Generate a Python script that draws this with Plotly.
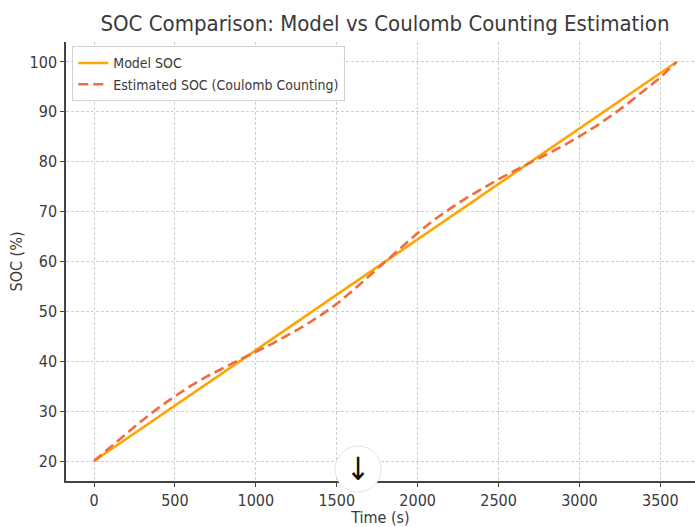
import plotly.graph_objects as go

# Data
time_s = [0, 100, 200, 300, 400, 500, 600, 700, 800, 900, 1000, 1100, 1200,
          1300, 1400, 1500, 1600, 1700, 1800, 1900, 2000, 2100, 2200, 2300,
          2400, 2500, 2600, 2700, 2800, 2900, 3000, 3100, 3200, 3300, 3400,
          3500, 3600]
model_time = [0, 3600]
model_soc = [20, 100]
estimated_soc = [20.0, 22.8, 25.5, 28.2, 30.7, 33.0, 35.1, 37.0, 38.7, 40.3,
                 41.9, 43.5, 45.3, 47.1, 49.2, 51.5, 54.2, 57.1, 60.1, 63.0,
                 65.7, 68.3, 70.6, 72.7, 74.6, 76.5, 78.2, 79.9, 81.5, 83.2,
                 85.1, 87.1, 89.3, 91.7, 94.3, 96.9, 100.0]
x_ticks = [0, 500, 1000, 1500, 2000, 2500, 3000, 3500]
y_ticks = [20, 30, 40, 50, 60, 70, 80, 90, 100]

font_family = "DejaVu Sans Condensed, DejaVu Sans"
text_color = "#3a3a3a"

fig = go.Figure()
fig.add_trace(go.Scatter(
    x=model_time, y=model_soc, mode="lines", name="Model SOC",
    line=dict(color="#FFA500", width=2.6)))
fig.add_trace(go.Scatter(
    x=time_s, y=estimated_soc, mode="lines",
    name="Estimated SOC (Coulomb Counting)",
    line=dict(color="#F26B3A", width=2.6, dash="10px,5px")))

axis_common = dict(
    showgrid=True, gridcolor="#cfcfcf", gridwidth=1, griddash="3px,2px",
    zeroline=False, showline=True, linecolor="#444444", linewidth=1.5,
    ticks="outside", ticklen=4, tickwidth=1, tickcolor="#444444",
    tickfont=dict(family=font_family, size=16, color=text_color),
)

fig.update_layout(
    width=695, height=527,
    margin=dict(l=66, r=0, t=42, b=44),
    paper_bgcolor="white", plot_bgcolor="white",
    font=dict(family=font_family, color=text_color),
    title=dict(text="SOC Comparison: Model vs Coulomb Counting Estimation",
               x=385 / 695, xref="container", xanchor="center",
               y=1 - 23 / 527, yref="container", yanchor="middle",
               font=dict(family=font_family, size=22, color=text_color)),
    xaxis=dict(range=[-173, 3714], tickvals=x_ticks,
               title=dict(text="Time (s)", standoff=6,
                          font=dict(family=font_family, size=16, color=text_color)),
               **axis_common),
    yaxis=dict(range=[16, 104], tickvals=y_ticks,
               title=dict(text="SOC (%)", standoff=3,
                          font=dict(family=font_family, size=16, color=text_color)),
               **axis_common),
    legend=dict(x=0.01, y=0.99, xanchor="left", yanchor="top",
                bgcolor="rgba(255,255,255,0.9)", bordercolor="#d0d0d0",
                borderwidth=1,
                font=dict(family=font_family, size=14, color=text_color),
                tracegroupgap=2),
    showlegend=True,
)

# overlay scroll-down badge seen in the reference
fig.add_shape(type="circle", xref="paper", yref="paper",
              xsizemode="pixel", ysizemode="pixel",
              xanchor=(358 - 66) / 629, yanchor=(483 - 471) / 441,
              x0=-23, x1=23, y0=-23, y1=23,
              fillcolor="white", line=dict(color="#e3e3e3", width=1),
              layer="above")
fig.add_annotation(text="↓", xref="paper", yref="paper",
                   x=(358 - 66) / 629, y=(483 - 471) / 441,
                   xanchor="center", yanchor="middle",
                   showarrow=False, font=dict(family=font_family, size=32, color="#111111"))

fig.write_html("out.html")
